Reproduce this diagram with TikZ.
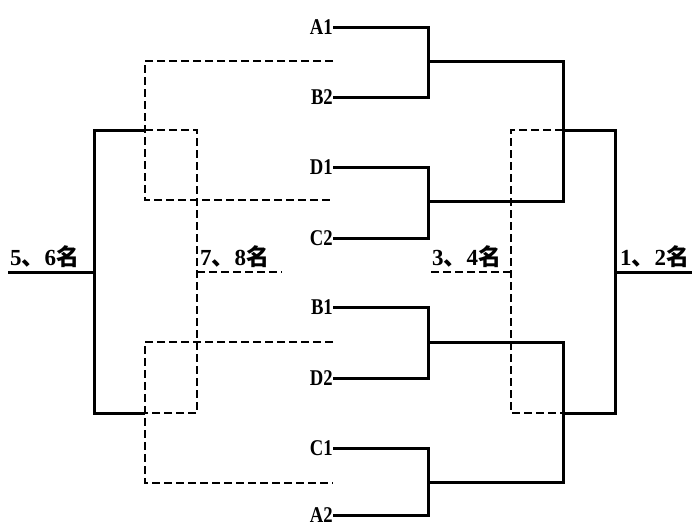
\documentclass[tikz,border=0pt]{standalone}
\usepackage{fontspec}
\setmainfont{Liberation Serif}
\newfontfamily\cjk{Noto Sans CJK SC}
\newcommand{\tlabel}[1]{\scalebox{0.83}[1]{#1}}
\begin{document}
\begin{tikzpicture}[x=1pt,y=-1pt,
  team/.style={font=\bfseries\fontsize{22.5}{22.5}\selectfont, anchor=east, inner sep=0pt},
  rank/.style={font=\bfseries\fontsize{23}{23}\selectfont, anchor=base west, inner sep=0pt},
  win/.style={line width=3pt},
  lose/.style={line width=2.1pt, dash pattern=on 8pt off 4pt}]
\useasboundingbox[fill=white] (0,0) rectangle (692,528);
% team labels
\node[team] (A1) at (333,27) {\tlabel{A1}};
\node[team] (B2) at (333,97) {\tlabel{B2}};
\node[team] (D1) at (333,167) {\tlabel{D1}};
\node[team] (C2) at (333,238) {\tlabel{C2}};
\node[team] (B1) at (333,307) {\tlabel{B1}};
\node[team] (D2) at (333,378) {\tlabel{D2}};
\node[team] (C1) at (333,448) {\tlabel{C1}};
\node[team] (A2) at (333,515) {\tlabel{A2}};
% junctions
\coordinate (q1) at (428,61);
\coordinate (q2) at (428,201);
\coordinate (q3) at (428,342);
\coordinate (q4) at (428,482);
\coordinate (s1) at (563,61);
\coordinate (s2) at (563,201);
\coordinate (s3) at (563,342);
\coordinate (s4) at (563,482);
\coordinate (t1) at (563,130);
\coordinate (t2) at (563,413);
\coordinate (u1) at (615,130);
\coordinate (u2) at (615,413);
\coordinate (f12) at (615,272);
\coordinate (e12) at (692,272);
\coordinate (x34) at (511,272);
\coordinate (e34) at (428,272);
\coordinate (l1) at (333,61);
\coordinate (l2) at (333,200);
\coordinate (l3) at (333,342);
\coordinate (l4) at (333,483);
\coordinate (v1) at (145,130);
\coordinate (v2) at (145,413);
\coordinate (w1) at (94,130);
\coordinate (w2) at (94,413);
\coordinate (f56) at (94,272);
\coordinate (e56) at (8,272);
\coordinate (x78) at (197,272);
\coordinate (e78) at (282,272);
% first round
\draw[win] (A1.east) -| (q1) |- (B2.east);
\draw[win] (D1.east) -| (q2) |- (C2.east);
\draw[win] (B1.east) -| (q3) |- (D2.east);
\draw[win] (C1.east) -| (q4) |- (A2.east);
% semifinals
\draw[win] (q1) -- (s1) -- (s2) -- (q2);
\draw[win] (q3) -- (s3) -- (s4) -- (q4);
% final
\draw[win] (t1) -- (u1) -- (u2) -- (t2);
\draw[win] (f12) -- (e12);
% 3-4
\draw[lose] (t1) -| (x34) |- (t2);
\draw[lose] (x34) -- (e34);
% losers of first round
\draw[lose] (l1) -| (v1) |- (l2);
\draw[lose] (l3) -| (v2) |- (l4);
% 5-6
\draw[win] (v1) -- (w1) -- (w2) -- (v2);
\draw[win] (f56) -- (e56);
% 7-8
\draw[lose] (v1) -| (x78) |- (v2);
\draw[lose] (x78) -- (e78);
% rank labels
\node[rank] (r56) at (10,265) {5{\cjk 、}6{\cjk 名}};
\node[rank] (r78) at (200,265) {7{\cjk 、}8{\cjk 名}};
\node[rank] (r34) at (432,265) {3{\cjk 、}4{\cjk 名}};
\node[rank] (r12) at (620,265) {1{\cjk 、}2{\cjk 名}};
\end{tikzpicture}
\end{document}
